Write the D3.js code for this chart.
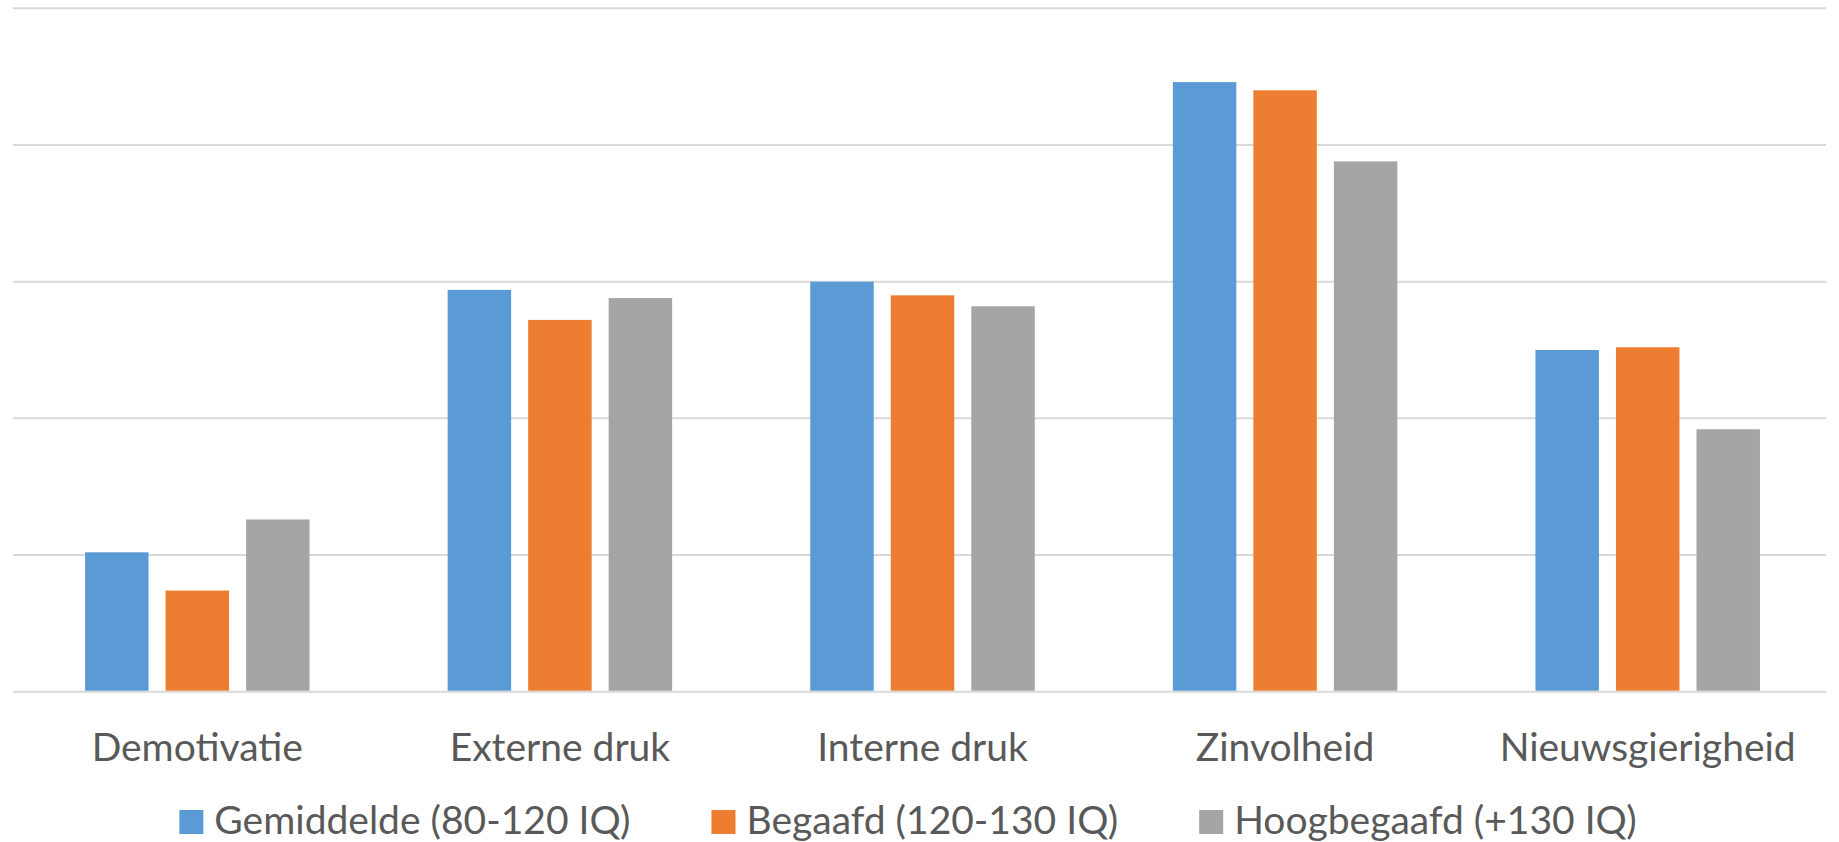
<!DOCTYPE html>
<html>
<head>
<meta charset="utf-8">
<script src="https://cdn.jsdelivr.net/npm/d3@7"></script>
<style>
  html, body { margin: 0; padding: 0; background: #ffffff; }
  svg { display: block; }
  text { font-family: Lato, "Open Sans", sans-serif; fill: #595959; }
</style>
</head>
<body>
<svg id="chart" width="1839" height="842"></svg>
<script>
// ---- data ----
const categories = ["Demotivatie", "Externe druk", "Interne druk", "Zinvolheid", "Nieuwsgierigheid"];
const seriesNames = ["Gemiddelde (80-120 IQ)", "Begaafd (120-130 IQ)", "Hoogbegaafd (+130 IQ)"];
const gemiddelde = [1.02, 2.94, 3.00, 4.46, 2.50];
const begaafd = [0.74, 2.72, 2.90, 4.40, 2.52];
const hoogbegaafd = [1.26, 2.88, 2.82, 3.88, 1.92];
const seriesColors = ["#5B9BD5", "#ED7D31", "#A5A5A5"];
const yTicks = [0, 1, 2, 3, 4, 5];

const seriesValues = [gemiddelde, begaafd, hoogbegaafd];

// ---- layout ----
const svg = d3.select("#chart");
const plot = { left: 13, right: 1826, top: 8.3, bottom: 691.7 };

const x0 = d3.scaleBand().domain(categories).range([plot.left + 3, plot.right + 3]).paddingInner(0).paddingOuter(0);
const groupFrac = 224.5 / 362.6;
const x1 = d3.scaleBand().domain(d3.range(seriesNames.length))
  .range([0, x0.bandwidth() * groupFrac]).paddingInner(17 / 80.3).paddingOuter(0);
const groupOffset = (x0.bandwidth() - x0.bandwidth() * groupFrac) / 2;

const y = d3.scaleLinear().domain([0, 5]).range([plot.bottom, plot.top]);

// gridlines
svg.append("g").selectAll("line").data(yTicks).join("line")
  .attr("x1", plot.left).attr("x2", plot.right)
  .attr("y1", d => y(d)).attr("y2", d => y(d))
  .attr("stroke", "#D9D9D9").attr("stroke-width", 2);

// bars
const groups = svg.append("g").selectAll("g").data(categories).join("g")
  .attr("transform", c => `translate(${x0(c) + groupOffset},0)`);
groups.selectAll("rect")
  .data((c, ci) => seriesValues.map((vals, si) => ({ si, v: vals[ci] })))
  .join("rect")
  .attr("x", d => x1(d.si))
  .attr("width", x1.bandwidth())
  .attr("y", d => y(d.v))
  .attr("height", d => y(0) - y(d.v) - 1)
  .attr("fill", d => seriesColors[d.si]);

// category labels
svg.append("g").selectAll("text").data(categories).join("text")
  .attr("x", c => x0(c) + x0.bandwidth() / 2)
  .attr("y", 760.7)
  .attr("text-anchor", "middle")
  .attr("font-size", 39)
  .text(c => c);

// legend
const legend = svg.append("g");
const items = legend.selectAll("g").data(seriesNames).join("g");
items.append("rect").attr("width", 24).attr("height", 24).attr("y", 810)
  .attr("fill", (d, i) => seriesColors[i]);
items.append("text").attr("x", 35).attr("y", 834).attr("font-size", 39).text(d => d);
const gap = 81;
let widths = [];
items.each(function () { widths.push(35 + this.querySelector("text").getComputedTextLength()); });
const total = d3.sum(widths) + gap * (widths.length - 1);
let cx = 908 - total / 2;
items.attr("transform", (d, i) => {
  const t = `translate(${cx},0)`;
  cx += widths[i] + gap;
  return t;
});
</script>
</body>
</html>
